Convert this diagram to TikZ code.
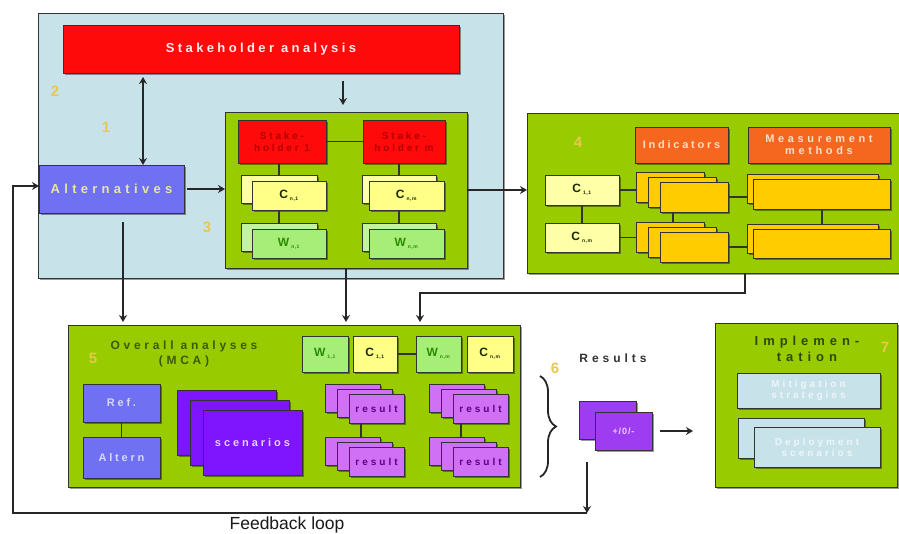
\documentclass[tikz,border=0pt]{standalone}
\usepackage{fontspec}
\setmainfont{Liberation Sans}
\usetikzlibrary{shadows,arrows.meta,decorations.pathreplacing}

\definecolor{skyfill}{HTML}{C8E2EA}
\definecolor{lime}{HTML}{99CC00}
\definecolor{redbox}{HTML}{FF0A0A}
\definecolor{altblue}{HTML}{7070F2}
\definecolor{critY}{HTML}{FFFF88}
\definecolor{critPale}{HTML}{FFFFA8}
\definecolor{wgreen}{HTML}{A6EE78}
\definecolor{orangebox}{HTML}{F5661E}
\definecolor{indY}{HTML}{FFCC00}
\definecolor{scenV}{HTML}{7F14FF}
\definecolor{resP}{HTML}{D070F5}
\definecolor{pmV}{HTML}{9E3CF2}
\definecolor{numY}{HTML}{E8C850}
\definecolor{edge}{HTML}{333333}
\definecolor{olive}{HTML}{3D5A00}
\definecolor{paleY}{HTML}{E8E6A0}
\definecolor{palePeach}{HTML}{FFE0C8}
\definecolor{paleBlue}{HTML}{D8D8FF}
\definecolor{paleViolet}{HTML}{E8D0FF}
\definecolor{paleSky}{HTML}{ECF6FA}
\definecolor{darkViolet}{HTML}{5A0080}

% bold, letter-spaced label font: #1 = spacing, #2 = size
\newcommand\spc[2]{\fontsize{#2}{#2}\selectfont\bfseries\addfontfeature{LetterSpace=#1}}
\newcommand\sub[1]{\,\textsubscript{\fontsize{5}{5}\selectfont #1}}

\tikzset{
  rect/.style args={#1/#2/#3/#4}{minimum width={#3-#1}, minimum height={#4-#2},
    at={({(#1+#3)/2},{(#2+#4)/2})}},
  box/.style={draw=edge, line width=0.9pt, inner sep=0pt, outer sep=0pt, fill=#1,
    align=center,
    drop shadow={shadow xshift=1.6pt, shadow yshift=-1.6pt, opacity=0.4, fill=black}},
  tip/.style={-{Stealth[length=7pt,width=8pt]}},
  flow/.style={line width=2.2pt, draw=black!85, tip},
  link/.style={line width=1.6pt, draw=black!80},
  stepnum/.style={font=\bfseries\fontsize{15}{15}\selectfont, text=numY, inner sep=0pt},
  crit/.style={font=\spc{10}{12}, text=black!55!olive},
  wlab/.style={font=\spc{10}{12}, text=green!30!olive},
  reslab/.style={font=\spc{30}{10}, text=darkViolet},
}

\begin{document}
\begin{tikzpicture}[x=1pt,y=-1pt]
\useasboundingbox (0,0) rectangle (899,533);
\fill[white] (0,0) rectangle (899,533);

% ---------------- stage 1-3: stakeholders and alternatives ----------------
\node[box=skyfill, rect=38/13/503/278] (stage) {};
\node[box=redbox, rect=63/25/459/73, font=\spc{26}{13}, text=red!8] (sa) {Stakeholder analysis};
\node[box=altblue, rect=39/165/184/213, font=\spc{33}{13}, text=paleY] (alt) {Alternatives};
\node[stepnum] (n2) at (55,91) {2};
\node[stepnum] (n1) at (106,127) {1};
\node[stepnum] (n3) at (207,227) {3};

\node[box=lime, rect=225/112/467/268] (panel) {};
\node[box=redbox, rect=238/120/326/163, font=\spc{28}{10}, text=red!70!black] (sh1) {Stake-\\[2pt]holder 1};
\node[box=redbox, rect=363/120/445/163, font=\spc{28}{10}, text=red!70!black] (shm) {Stake-\\[2pt]holder m};

\node[box=critPale, rect=241/175/317/203] (c1b) {};
\node[box=critY, rect=252/181/326/210, crit] (c1) {C\sub{n,1}};
\node[box=wgreen!70!white, rect=241/223/317/251] (w1b) {};
\node[box=wgreen, rect=252/229/326/258, wlab] (w1) {W\sub{n,1}};

\node[box=critPale, rect=362/175/436/203] (cmb) {};
\node[box=critY, rect=369/181/444/210, crit] (cm) {C\sub{n,m}};
\node[box=wgreen!70!white, rect=362/223/436/251] (wmb) {};
\node[box=wgreen, rect=369/229/444/258, wlab] (wm) {W\sub{n,m}};

\draw[link] (sh1.east) -- (shm.west);
\draw[link] (sh1.south -| c1b.north) -- (c1b.north);
\draw[link] (c1b.north |- c1.south) -- (w1b.north);
\draw[link] (shm.south -| cmb.north) -- (cmb.north);
\draw[link] (cmb.north |- cm.south) -- (wmb.north);

\coordinate (dx) at (143,0);
\draw[line width=2.4pt, draw=black!85, {Stealth[length=7pt,width=8pt]}-{Stealth[length=7pt,width=8pt]}]
  (sa.south -| dx) ++(0,4) -- (alt.north -| dx);
\coordinate (sx) at (343,0);
\draw[flow, shorten <=8pt, shorten >=7pt] (sa.south -| sx) -- (panel.north -| sx);
\draw[flow, shorten <=3pt] (alt.east) -- (alt.east -| panel.west);

% ---------------- stage 4: indicators ----------------
\node[box=lime, rect=527/113/904/273] (panel4) {};
\node[stepnum] (n4) at (578,142) {4};
\node[box=orangebox, rect=635/127/728/163, font=\spc{25}{11}, text=palePeach] (ind) {Indicators};
\node[box=orangebox, rect=748/127/890/163, font=\spc{33}{11}, text=palePeach] (meas) {Measurement\\[1pt]methods};

\node[box=critPale, rect=545/175/619/205, crit] (c11) {C\sub{1,1}};
\node[box=critPale, rect=545/223/619/252, crit] (cnm) {C\sub{n,m}};

\node[box=indY, rect=636/172/704/202] (ia3) {};
\node[box=indY, rect=648/177/716/207] (ia2) {};
\node[box=indY, rect=660/182/728/212] (ia1) {};
\node[box=indY, rect=636/222/704/252] (ib3) {};
\node[box=indY, rect=648/227/716/257] (ib2) {};
\node[box=indY, rect=660/232/728/262] (ib1) {};

\node[box=indY, rect=747/174/878/203] (ma2) {};
\node[box=indY, rect=753/179/890/209] (ma1) {};
\node[box=indY, rect=747/224/878/253] (mb2) {};
\node[box=indY, rect=753/229/890/258] (mb1) {};

\draw[link] (c11.east) -- (c11.east -| ia3.west);
\draw[link] (cnm.east) -- (cnm.east -| ib3.west);
\draw[link] (ia1.east) -- (ia1.east -| ma2.west);
\draw[link] (ib1.east) -- (ib1.east -| mb2.west);
\draw[link] (c11.south) -- (cnm.north);
\coordinate (ix) at (673,0);
\draw[link] (ia1.south -| ix) -- (ib3.north -| ix);
\coordinate (mx) at (822,0);
\draw[link] (ma1.south -| mx) -- (mb2.north -| mx);

\draw[flow] (panel.east) -- (panel.east -| panel4.west);

% ---------------- stage 5: overall analyses ----------------
\node[box=lime, rect=68/325/520/487] (mca) {};
\node[font=\spc{31}{12}, text=olive, align=center, inner sep=0pt] (mcatitle) at (184,354) {Overall analyses\\[3pt](MCA)};
\node[stepnum] (n5) at (93,358) {5};

\node[box=altblue, rect=83/384/160/422, font=\spc{25}{11}, text=paleBlue] (ref) {Ref.};
\node[box=altblue, rect=83/437/160/478, font=\spc{25}{11}, text=paleBlue] (altern) {Altern};
\draw[link] (ref.south) -- (altern.north);

\node[box=scenV, rect=177/390/276/455] (sc3) {};
\node[box=scenV, rect=190/400/289/465] (sc2) {};
\node[box=scenV, rect=203/410/302/475, font=\spc{27}{11}, text=paleViolet] (sc1) {scenarios};

\node[box=wgreen, rect=302/336/348/372, wlab] (mw11) {W\sub{1,1}};
\node[box=critY, rect=353/336/397/372, crit] (mc11) {C\sub{1,1}};
\node[box=wgreen, rect=416/336/461/372, wlab] (mwnm) {W\sub{n,m}};
\node[box=critY, rect=467/336/513/372, crit] (mcnm) {C\sub{n,m}};
\draw[link] (mc11.east) -- (mwnm.west);

% result stacks, three sheets each
\node[box=resP, rect=325/384/380/412] (ra1c) {};
\node[box=resP, rect=337/389/392/417] (ra1b) {};
\node[box=resP, rect=349/394/404/423, reslab] (ra1a) {result};
\node[box=resP, rect=325/437/380/465] (ra2c) {};
\node[box=resP, rect=337/442/392/470] (ra2b) {};
\node[box=resP, rect=349/447/404/476, reslab] (ra2a) {result};
\node[box=resP, rect=429/384/484/412] (rb1c) {};
\node[box=resP, rect=441/389/496/417] (rb1b) {};
\node[box=resP, rect=453/394/508/423, reslab] (rb1a) {result};
\node[box=resP, rect=429/437/484/465] (rb2c) {};
\node[box=resP, rect=441/442/496/470] (rb2b) {};
\node[box=resP, rect=453/447/508/476, reslab] (rb2a) {result};

\coordinate (rx1) at (361,0);
\coordinate (rx2) at (461,0);
\draw[link] (ra1a.south -| rx1) -- (ra2c.north -| rx1);
\draw[link] (rb1a.south -| rx2) -- (rb2c.north -| rx2);

\coordinate (ax) at (123,0);
\draw[flow, shorten <=9pt, shorten >=3pt] (alt.south -| ax) -- (mca.north -| ax);
\coordinate (px) at (346,0);
\draw[flow, shorten >=3pt] (panel.south -| px) -- (mca.north -| px);
\coordinate (turn) at (745,293);
\coordinate (mcain) at (420,0);
\draw[flow, shorten >=3pt] (turn |- panel4.south) -- (turn) -| (mcain |- mca.north);

% ---------------- stage 6: results ----------------
\coordinate (bracetop) at (540,376);
\coordinate (bracebot) at (540,477);
\draw[line width=1.8pt, draw=black!85, decorate, decoration={brace, amplitude=16pt}] (bracetop) -- (bracebot);
\node[stepnum] (n6) at (555,368) {6};
\node[font=\spc{33}{12}, text=black!80, inner sep=0pt] (res) at (613,358) {Results};
\node[box=pmV, rect=579/401/636/439] (pmb) {};
\node[box=pmV, rect=595/412/652/450, font=\spc{10}{9}, text=paleViolet] (pm) {+/0/-};

% ---------------- stage 7: implementation ----------------
\node[box=lime, rect=715/323/897/487] (impl) {};
\node[font=\spc{38}{13}, text=olive!80!black, align=center, inner sep=0pt] (impltitle) at (807,349) {Implemen-\\[3pt]tation};
\node[stepnum] (n7) at (885,347) {7};
\node[box=skyfill, rect=737/373/880/408, font=\spc{30}{10}, text=paleSky] (mitig) {Mitigation\\[1pt]strategies};
\node[box=skyfill, rect=738/418/864/458] (depb) {};
\node[box=skyfill, rect=754/427/880/467, font=\spc{30}{10}, text=paleSky] (dep) {Deployment\\[1pt]scenarios};

\draw[flow, shorten <=8pt, shorten >=22pt] (pm.east) -- (pm.east -| impl.west);

% ---------------- feedback loop ----------------
\coordinate (fbdrop) at (587,462);
\coordinate (fbcorner) at (587,513);
\coordinate (fbleft) at (13,513);
\draw[flow] (fbdrop) -- (fbcorner);
\draw[flow] (fbcorner) -- (fbleft) |- ([yshift=3pt]alt.west);
\node[font=\fontsize{17.5}{17.5}\selectfont, text=black!90, inner sep=0pt] (fbtext) at (287,525) {Feedback loop};
\end{tikzpicture}
\end{document}
